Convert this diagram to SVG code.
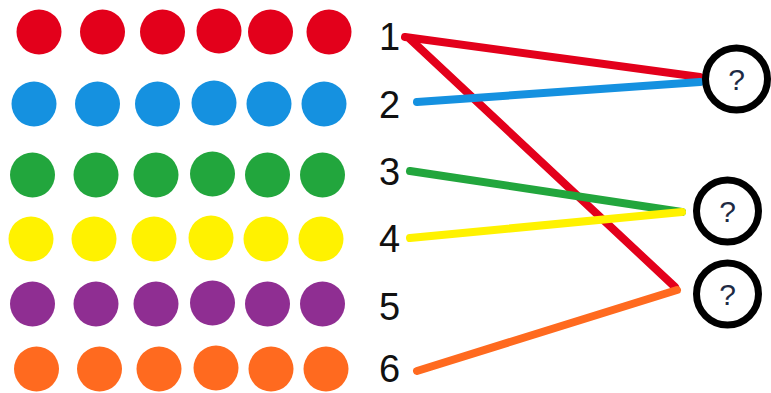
<svg xmlns="http://www.w3.org/2000/svg" width="771" height="393" viewBox="0 0 771 393">
<style>
.red{fill:#e3001b}.blue{fill:#1591e0}.green{fill:#22a63d}.yellow{fill:#fff200}.purple{fill:#8f2e92}.orange{fill:#ff6a1f}
.num{font-family:"Liberation Sans",Arial,sans-serif;font-size:38px;fill:#111}
.q{font-family:"Liberation Sans",Arial,sans-serif;font-size:30px;fill:#1e2a44;text-anchor:middle}
.ring{fill:#fff;stroke:#000;stroke-width:7}
.ln{stroke-width:8;stroke-linecap:round;fill:none}
</style>
<rect width="771" height="393" fill="#fff"/>
<g id="row1" class="red">
<circle cx="39" cy="32" r="22.5"/><circle cx="102.5" cy="32" r="22.5"/><circle cx="162.5" cy="32" r="22.5"/><circle cx="219" cy="31" r="22.5"/><circle cx="270.5" cy="32" r="22.5"/><circle cx="329" cy="32" r="22.5"/>
</g>
<g id="row2" class="blue">
<circle cx="34" cy="104" r="22.5"/><circle cx="97.5" cy="104" r="22.5"/><circle cx="157.5" cy="104" r="22.5"/><circle cx="214" cy="103" r="22.5"/><circle cx="269" cy="104" r="22.5"/><circle cx="324" cy="104" r="22.5"/>
</g>
<g id="row3" class="green">
<circle cx="32.5" cy="175" r="22.5"/><circle cx="96" cy="175" r="22.5"/><circle cx="156" cy="175" r="22.5"/><circle cx="212.5" cy="174" r="22.5"/><circle cx="267.5" cy="175" r="22.5"/><circle cx="322.5" cy="175" r="22.5"/>
</g>
<g id="row4" class="yellow">
<circle cx="31" cy="239" r="22.5"/><circle cx="94" cy="239" r="22.5"/><circle cx="154" cy="239" r="22.5"/><circle cx="211" cy="238" r="22.5"/><circle cx="266" cy="239" r="22.5"/><circle cx="321" cy="239" r="22.5"/>
</g>
<g id="row5" class="purple">
<circle cx="32.5" cy="304" r="22.5"/><circle cx="96" cy="304" r="22.5"/><circle cx="156" cy="304" r="22.5"/><circle cx="212.5" cy="303" r="22.5"/><circle cx="267.5" cy="304" r="22.5"/><circle cx="322.5" cy="304" r="22.5"/>
</g>
<g id="row6" class="orange">
<circle cx="36.5" cy="369" r="22.5"/><circle cx="99.5" cy="369" r="22.5"/><circle cx="159" cy="369" r="22.5"/><circle cx="216" cy="368" r="22.5"/><circle cx="271" cy="369" r="22.5"/><circle cx="326" cy="369" r="22.5"/>
</g>
<g id="labels">
<text class="num" x="379" y="50">1</text>
<text class="num" x="379" y="118">2</text>
<text class="num" x="379" y="185">3</text>
<text class="num" x="379" y="252">4</text>
<text class="num" x="379" y="320">5</text>
<text class="num" x="379" y="382">6</text>
</g>
<g id="connectors">
<line class="ln" x1="405" y1="37" x2="700" y2="77" stroke="#e3001b"/>
<line class="ln" x1="410" y1="39" x2="675" y2="287" stroke="#e3001b"/>
<line class="ln" x1="417" y1="102" x2="700" y2="82" stroke="#1591e0"/>
<line class="ln" x1="410" y1="171" x2="682" y2="212" stroke="#22a63d"/>
<line class="ln" x1="410" y1="238" x2="682" y2="212" stroke="#fff200"/>
<line class="ln" x1="417" y1="371" x2="677" y2="290" stroke="#ff6a1f"/>
</g>
<g id="target1"><circle class="ring" cx="736.5" cy="79" r="31"/><text class="q" x="736.5" y="90">?</text></g>
<g id="target2"><circle class="ring" cx="727.5" cy="211" r="31"/><text class="q" x="727.5" y="222">?</text></g>
<g id="target3"><circle class="ring" cx="727.5" cy="294" r="31"/><text class="q" x="727.5" y="305">?</text></g>
</svg>
